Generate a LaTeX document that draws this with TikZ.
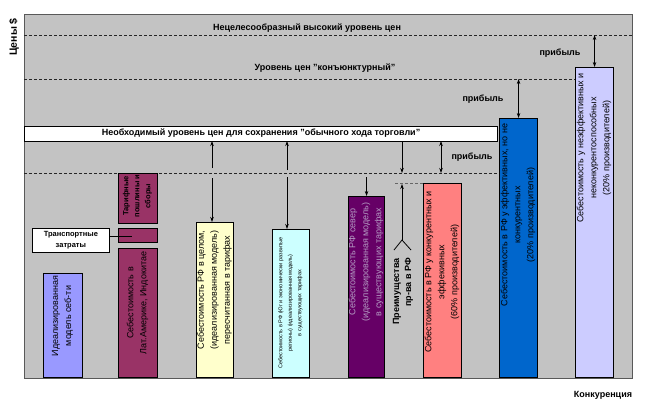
\documentclass[tikz,border=0pt]{standalone}
\usepackage{fontspec}
\setmainfont{Liberation Sans}
\usetikzlibrary{arrows.meta}
\definecolor{bgc}{RGB}{195,195,195}
\definecolor{cIdeal}{RGB}{153,153,255}
\definecolor{cMaroon}{RGB}{153,51,102}
\definecolor{cYellow}{RGB}{255,255,204}
\definecolor{cCyan}{RGB}{204,255,255}
\definecolor{cPurple}{RGB}{102,0,102}
\definecolor{cPurpleTxt}{RGB}{180,155,195}
\definecolor{cSalmon}{RGB}{255,128,128}
\definecolor{cBlue}{RGB}{0,102,204}
\definecolor{cLav}{RGB}{204,204,255}
\tikzset{
  barbox/.style={draw=black, line width=1.1pt, inner sep=0pt, anchor=north west},
  barlbl/.style={font=\fontsize{9}{13}\selectfont, rotate=90, align=center, inner sep=0pt},
  tinylbl/.style={font=\fontsize{5.5}{9.5}\selectfont, rotate=90, align=center, inner sep=0pt},
  boldlbl/.style={font=\fontsize{9}{12}\selectfont\bfseries, inner sep=0pt},
  smallbold/.style={font=\fontsize{7.5}{11}\selectfont\bfseries, inner sep=0pt, align=center},
  dline/.style={dash pattern=on 3pt off 2pt, line width=0.8pt, draw=black!85},
  arr/.style={-{Stealth[length=5pt,width=3.5pt]}, line width=0.8pt},
  darr/.style={{Stealth[length=5pt,width=3.5pt]}-{Stealth[length=5pt,width=3.5pt]}, line width=0.8pt}
}
\begin{document}
\begin{tikzpicture}[x=1pt,y=-1pt]
\useasboundingbox (0,0) rectangle (671,416);
\fill[white] (0,0) rectangle (671,416);
% background panel
\node[draw=gray!70!black, line width=0.5pt, fill=bgc, inner sep=0pt, anchor=north west,
      minimum width=608pt, minimum height=364pt] (bg) at (24,14) {};
% axis labels
\node[boldlbl, font=\fontsize{10.5}{12}\selectfont\bfseries, rotate=90, anchor=east] (yl) at (14,18) {Цены \$};
\node[boldlbl] (xl) at (603,395) {Конкуренция};
% dashed levels
\coordinate (d1l) at (24,35);  \coordinate (d1r) at (632,35);
\coordinate (d2l) at (24,79);  \coordinate (d2r) at (575,79);
\coordinate (d3l) at (24,173); \coordinate (d3r) at (499,173);
\coordinate (d4l) at (395,183); \coordinate (d4r) at (423,183);
\draw[dline] (d1l) -- (d1r);
\draw[dline] (d2l) -- (d2r);
\draw[dline] (d3l) -- (d3r);
\draw[dline, draw=black!60] (d4l) -- (d4r);
% level labels
\node[boldlbl] (lv1) at (307,28) {Нецелесообразный высокий уровень цен};
\node[boldlbl] (lv2) at (325,68) {Уровень цен "конъюнктурный"};
% white box
\node[draw=black, line width=0.6pt, fill=white, inner sep=0pt, anchor=north west,
      minimum width=473pt, minimum height=15pt] (wb) at (24,126) {};
\node[boldlbl] (lv3) at (261,133.5) {Необходимый уровень цен для сохранения "обычного хода торговли"};
% bars
\node[barbox, fill=cIdeal, minimum width=39pt, minimum height=104pt] (b1) at (43,273) {};
\node[barbox, fill=cMaroon, minimum width=39pt, minimum height=50pt] (b2a) at (118,173) {};
\node[barbox, fill=cMaroon, minimum width=39pt, minimum height=14pt] (b2b) at (118,228) {};
\node[barbox, fill=cMaroon, minimum width=39pt, minimum height=129pt] (b2c) at (118,248) {};
\node[barbox, fill=cYellow, minimum width=37pt, minimum height=155pt] (b3) at (196,222) {};
\node[barbox, fill=cCyan, minimum width=37pt, minimum height=148pt] (b4) at (272,229) {};
\node[barbox, fill=cPurple, minimum width=36pt, minimum height=181pt] (b5) at (348,196) {};
\node[barbox, fill=cSalmon, minimum width=38pt, minimum height=194pt] (b6) at (423,183) {};
\node[barbox, fill=cBlue, minimum width=38pt, minimum height=259pt] (b7) at (499,118) {};
\node[barbox, fill=cLav, minimum width=38pt, minimum height=310pt] (b8) at (575,67) {};
% transport box
\node[draw=black, line width=0.8pt, fill=white, smallbold, anchor=north west,
      minimum width=77pt, minimum height=24pt] (tz) at (32,228) {Транспортные\\затраты};
\coordinate (tzend) at (132,236);
\draw[line width=0.6pt] (tz.east |- tzend) -- (tzend);
% bar texts
\node[barlbl] (t1) at (62.5,316) {Идеализированная\\модель себ-ти};
\node[smallbold, rotate=90] (t2a) at (137.5,196) {Тарифные\\пошлины и\\сборы};
\node[barlbl] (t2c) at (137.5,303) {Себестоимость в\\Лат.Америке, Индокитае};
\node[barlbl] (t3) at (214.5,290) {Себестоимость РФ в целом,\\(идеализированная модель)\\пересчитанная в тарифах};
\node[tinylbl] (t4) at (290.5,303) {Себестоимость в РФ (Юг и экономически развитые\\регионы) (идеализированная модель)\\в существующих тарифах};
\node[barlbl, text=cPurpleTxt] (t5) at (366,262) {Себестоимость РФ север\\(идеализированная модель)\\в существующих тарифах};
\begin{scope}
\clip (b6.north west) rectangle (b6.south east);
\node[barlbl] (t6) at (442,272) {Себестоимость в РФ у конкурентных и\\эффекивных\\(60\% производителей)};
\end{scope}
\begin{scope}
\clip (b7.north west) rectangle (b7.south east);
\node[barlbl] (t7) at (518,215) {Себестоимость в РФ у эффективных, но не\\конкурентных\\(20\% производителей)};
\end{scope}
\begin{scope}
\clip (b8.north west) rectangle (b8.south east);
\node[barlbl] (t8) at (594,148) {Себестоимость у неэффективных и\\неконкурентоспособных\\(20\% производителей)};
\end{scope}
% advantage label
\node[boldlbl, rotate=90, anchor=east, align=right] (adv) at (403,258) {Преимущества\\пр-ва в РФ};
% profit labels
\node[boldlbl] (pr1) at (560,53) {прибыль};
\node[boldlbl] (pr2) at (483,99) {прибыль};
\node[boldlbl] (pr3) at (472,157) {прибыль};
% arrows
\draw[darr] (b8.north |- d1l) -- (b8.north);
\draw[darr] (b7.north |- d2l) -- (b7.north);
\coordinate (q1) at (441,141); \coordinate (q2) at (441,173);
\draw[darr] (q1) -- (q2);
\coordinate (q3) at (402,141); \coordinate (q4) at (402,173);
\draw[arr] (q3) -- (q4);
\coordinate (s0) at (402,240); \coordinate (s1) at (402,184);
\coordinate (sl) at (394,250); \coordinate (sr) at (411,250);
\draw[arr] (s0) -- (s1);
\draw[line width=0.8pt] (sl) -- (s0) -- (sr);
\coordinate (u5) at (b5.north |- 0,177);
\draw[arr] (u5) -- (b5.north);
\coordinate (c1) at (287,170); \coordinate (c2) at (287,141); \coordinate (c3) at (287,177);
\draw[arr] (c1) -- (c2);
\draw[arr] (c3) -- (b4.north -| c3);
\coordinate (y1) at (212,168); \coordinate (y2) at (212,141); \coordinate (y3) at (212,178);
\draw[arr] (y1) -- (y2);
\draw[arr] (y3) -- (b3.north -| y3);
\end{tikzpicture}
\end{document}
